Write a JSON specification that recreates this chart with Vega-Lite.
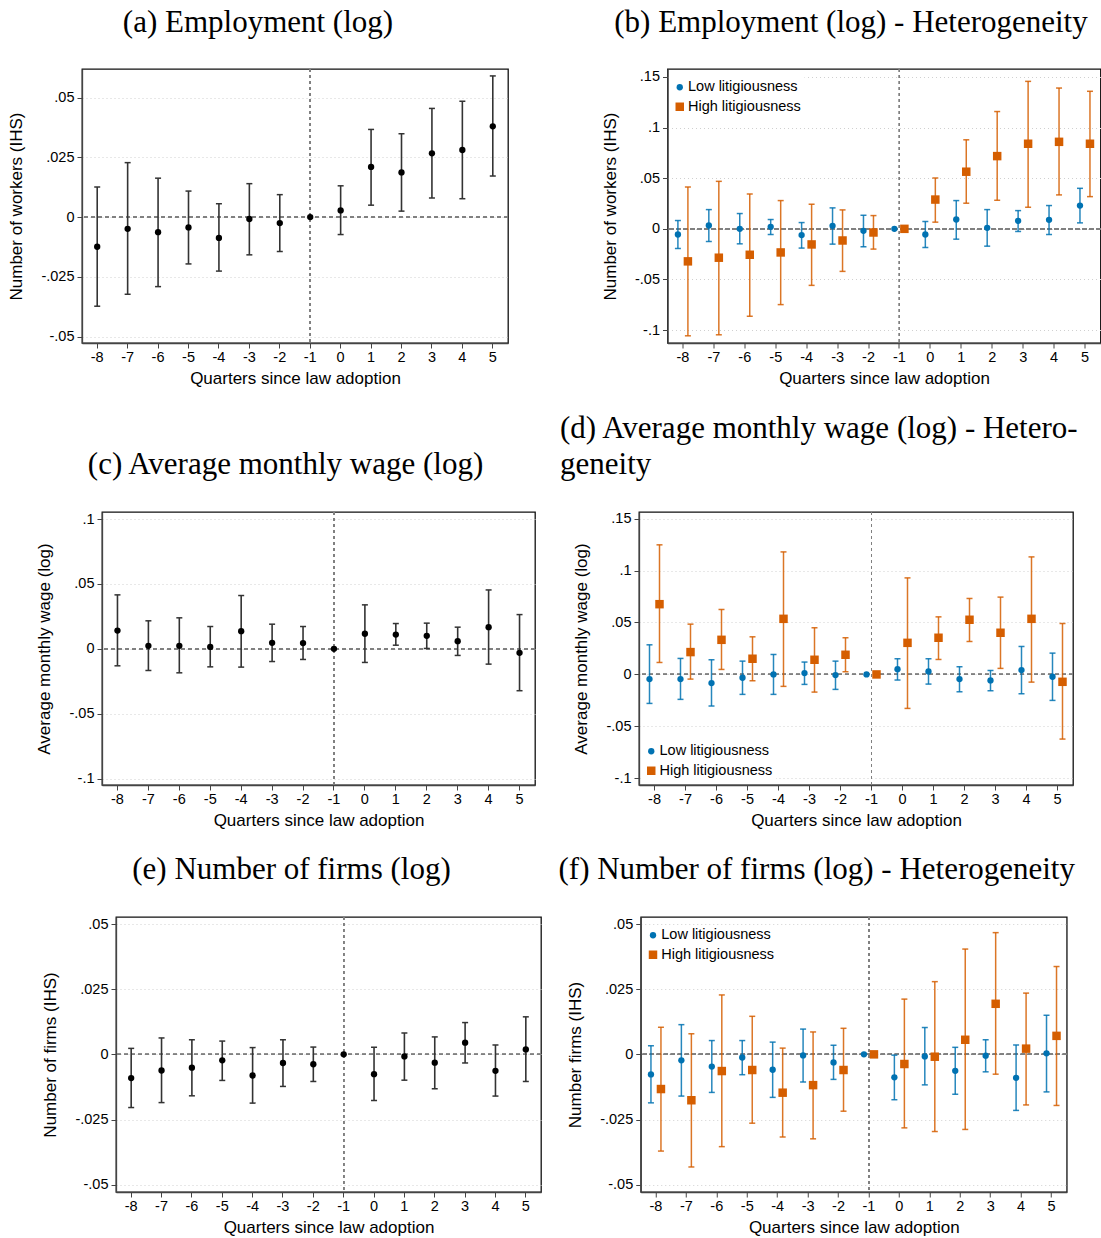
{
"$schema": "https://vega.github.io/schema/vega-lite/v6.json",
"padding": {"left": 2, "top": 5, "right": 0, "bottom": 0},
"datasets": {
"a": [
{"q":-8,"b":-0.0124,"lo":-0.0373,"hi":0.0126},{"q":-7,"b":-0.0049,"lo":-0.0323,"hi":0.0228},{"q":-6,"b":-0.0063,"lo":-0.0291,"hi":0.0163},{"q":-5,"b":-0.0043,"lo":-0.0196,"hi":0.0109},{"q":-4,"b":-0.0087,"lo":-0.0226,"hi":0.0056},{"q":-3,"b":-0.0008,"lo":-0.0158,"hi":0.014},{"q":-2,"b":-0.0025,"lo":-0.0144,"hi":0.0094},{"q":-1,"b":0,"lo":null,"hi":null},{"q":0,"b":0.0028,"lo":-0.0073,"hi":0.0131},{"q":1,"b":0.021,"lo":0.005,"hi":0.0367},{"q":2,"b":0.0187,"lo":0.0025,"hi":0.0349},{"q":3,"b":0.0267,"lo":0.008,"hi":0.0455},{"q":4,"b":0.0281,"lo":0.0077,"hi":0.0485},{"q":5,"b":0.038,"lo":0.0172,"hi":0.0591}],
"b": [
{"q":-8,"g":"Low litigiousness","b":-0.0056,"lo":-0.0194,"hi":0.0082},{"q":-7,"g":"Low litigiousness","b":0.0033,"lo":-0.0125,"hi":0.019},{"q":-6,"g":"Low litigiousness","b":0.0,"lo":-0.0148,"hi":0.0151},{"q":-5,"g":"Low litigiousness","b":0.002,"lo":-0.0056,"hi":0.0092},{"q":-4,"g":"Low litigiousness","b":-0.0062,"lo":-0.019,"hi":0.0062},{"q":-3,"g":"Low litigiousness","b":0.003,"lo":-0.0151,"hi":0.0207},{"q":-2,"g":"Low litigiousness","b":-0.002,"lo":-0.0177,"hi":0.0134},{"q":-1,"g":"Low litigiousness","b":0,"lo":null,"hi":null},{"q":0,"g":"Low litigiousness","b":-0.0056,"lo":-0.0184,"hi":0.0072},{"q":1,"g":"Low litigiousness","b":0.0092,"lo":-0.0102,"hi":0.0279},{"q":2,"g":"Low litigiousness","b":0.001,"lo":-0.0171,"hi":0.019},{"q":3,"g":"Low litigiousness","b":0.0079,"lo":-0.0026,"hi":0.018},{"q":4,"g":"Low litigiousness","b":0.0089,"lo":-0.0056,"hi":0.023},{"q":5,"g":"Low litigiousness","b":0.023,"lo":0.0059,"hi":0.04},
{"q":-8,"g":"High litigiousness","b":-0.0321,"lo":-0.1056,"hi":0.0413},{"q":-7,"g":"High litigiousness","b":-0.0285,"lo":-0.1046,"hi":0.0469},{"q":-6,"g":"High litigiousness","b":-0.0256,"lo":-0.0863,"hi":0.0344},{"q":-5,"g":"High litigiousness","b":-0.0233,"lo":-0.0748,"hi":0.0279},{"q":-4,"g":"High litigiousness","b":-0.0154,"lo":-0.0558,"hi":0.0243},{"q":-3,"g":"High litigiousness","b":-0.0115,"lo":-0.042,"hi":0.0187},{"q":-2,"g":"High litigiousness","b":-0.0036,"lo":-0.02,"hi":0.0131},{"q":-1,"g":"High litigiousness","b":0,"lo":null,"hi":null},{"q":0,"g":"High litigiousness","b":0.0289,"lo":0.0066,"hi":0.0502},{"q":1,"g":"High litigiousness","b":0.0564,"lo":0.0253,"hi":0.0879},{"q":2,"g":"High litigiousness","b":0.0718,"lo":0.0282,"hi":0.1158},{"q":3,"g":"High litigiousness","b":0.084,"lo":0.0213,"hi":0.1456},{"q":4,"g":"High litigiousness","b":0.0859,"lo":0.0335,"hi":0.139},{"q":5,"g":"High litigiousness","b":0.084,"lo":0.0318,"hi":0.1358}],
"c": [
{"q":-8,"b":0.0141,"lo":-0.0131,"hi":0.0416},{"q":-7,"b":0.0023,"lo":-0.0167,"hi":0.0216},{"q":-6,"b":0.0023,"lo":-0.0185,"hi":0.0239},{"q":-5,"b":0.0015,"lo":-0.0139,"hi":0.0172},{"q":-4,"b":0.0136,"lo":-0.0141,"hi":0.0411},{"q":-3,"b":0.0046,"lo":-0.0098,"hi":0.019},{"q":-2,"b":0.0044,"lo":-0.0082,"hi":0.0172},{"q":-1,"b":0,"lo":null,"hi":null},{"q":0,"b":0.0116,"lo":-0.0105,"hi":0.0339},{"q":1,"b":0.011,"lo":0.0028,"hi":0.0195},{"q":2,"b":0.01,"lo":0.0003,"hi":0.0198},{"q":3,"b":0.0059,"lo":-0.0051,"hi":0.0167},{"q":4,"b":0.0167,"lo":-0.0118,"hi":0.0454},{"q":5,"b":-0.0031,"lo":-0.0323,"hi":0.0264}],
"d": [
{"q":-8,"g":"Low litigiousness","b":-0.0045,"lo":-0.0279,"hi":0.0285},{"q":-7,"g":"Low litigiousness","b":-0.0045,"lo":-0.024,"hi":0.0154},{"q":-6,"g":"Low litigiousness","b":-0.0083,"lo":-0.0304,"hi":0.0141},{"q":-5,"g":"Low litigiousness","b":-0.0032,"lo":-0.0192,"hi":0.0128},{"q":-4,"g":"Low litigiousness","b":0.0,"lo":-0.0192,"hi":0.0192},{"q":-3,"g":"Low litigiousness","b":0.0013,"lo":-0.0096,"hi":0.0119},{"q":-2,"g":"Low litigiousness","b":-0.0006,"lo":-0.0144,"hi":0.0128},{"q":-1,"g":"Low litigiousness","b":0,"lo":null,"hi":null},{"q":0,"g":"Low litigiousness","b":0.0051,"lo":-0.0054,"hi":0.0151},{"q":1,"g":"Low litigiousness","b":0.0029,"lo":-0.0093,"hi":0.0151},{"q":2,"g":"Low litigiousness","b":-0.0045,"lo":-0.0167,"hi":0.0074},{"q":3,"g":"Low litigiousness","b":-0.0058,"lo":-0.0157,"hi":0.0038},{"q":4,"g":"Low litigiousness","b":0.0042,"lo":-0.0186,"hi":0.0269},{"q":5,"g":"Low litigiousness","b":-0.0022,"lo":-0.025,"hi":0.0205},
{"q":-8,"g":"High litigiousness","b":0.0676,"lo":0.0115,"hi":0.1247},{"q":-7,"g":"High litigiousness","b":0.0215,"lo":-0.0045,"hi":0.0484},{"q":-6,"g":"High litigiousness","b":0.0333,"lo":0.0048,"hi":0.0625},{"q":-5,"g":"High litigiousness","b":0.0151,"lo":-0.0061,"hi":0.0362},{"q":-4,"g":"High litigiousness","b":0.0535,"lo":-0.0115,"hi":0.1179},{"q":-3,"g":"High litigiousness","b":0.0141,"lo":-0.017,"hi":0.0449},{"q":-2,"g":"High litigiousness","b":0.0189,"lo":0.0026,"hi":0.0353},{"q":-1,"g":"High litigiousness","b":0,"lo":null,"hi":null},{"q":0,"g":"High litigiousness","b":0.0304,"lo":-0.0327,"hi":0.0929},{"q":1,"g":"High litigiousness","b":0.0353,"lo":0.0144,"hi":0.0554},{"q":2,"g":"High litigiousness","b":0.0526,"lo":0.0317,"hi":0.0731},{"q":3,"g":"High litigiousness","b":0.0401,"lo":0.0058,"hi":0.0744},{"q":4,"g":"High litigiousness","b":0.0535,"lo":-0.0074,"hi":0.1131},{"q":5,"g":"High litigiousness","b":-0.0071,"lo":-0.0622,"hi":0.049}],
"e": [
{"q":-8,"b":-0.0091,"lo":-0.0204,"hi":0.0023},{"q":-7,"b":-0.0062,"lo":-0.0185,"hi":0.0063},{"q":-6,"b":-0.0051,"lo":-0.0159,"hi":0.0056},{"q":-5,"b":-0.0023,"lo":-0.01,"hi":0.0051},{"q":-4,"b":-0.0081,"lo":-0.0187,"hi":0.0026},{"q":-3,"b":-0.0033,"lo":-0.0123,"hi":0.0056},{"q":-2,"b":-0.0038,"lo":-0.0104,"hi":0.0028},{"q":-1,"b":0,"lo":null,"hi":null},{"q":0,"b":-0.0076,"lo":-0.0177,"hi":0.0027},{"q":1,"b":-0.0008,"lo":-0.0099,"hi":0.0082},{"q":2,"b":-0.0032,"lo":-0.0132,"hi":0.0067},{"q":3,"b":0.0045,"lo":-0.0033,"hi":0.0122},{"q":4,"b":-0.0063,"lo":-0.016,"hi":0.0036},{"q":5,"b":0.0019,"lo":-0.0104,"hi":0.0144}],
"f": [
{"q":-8,"g":"Low litigiousness","b":-0.0077,"lo":-0.0186,"hi":0.0033},{"q":-7,"g":"Low litigiousness","b":-0.0023,"lo":-0.016,"hi":0.0114},{"q":-6,"g":"Low litigiousness","b":-0.0047,"lo":-0.0146,"hi":0.0053},{"q":-5,"g":"Low litigiousness","b":-0.0012,"lo":-0.0078,"hi":0.0053},{"q":-4,"g":"Low litigiousness","b":-0.0059,"lo":-0.0165,"hi":0.0047},{"q":-3,"g":"Low litigiousness","b":-0.0004,"lo":-0.0106,"hi":0.0097},{"q":-2,"g":"Low litigiousness","b":-0.0031,"lo":-0.0096,"hi":0.0035},{"q":-1,"g":"Low litigiousness","b":0,"lo":null,"hi":null},{"q":0,"g":"Low litigiousness","b":-0.0088,"lo":-0.0174,"hi":-0.0003},{"q":1,"g":"Low litigiousness","b":-0.0008,"lo":-0.0117,"hi":0.0103},{"q":2,"g":"Low litigiousness","b":-0.0063,"lo":-0.0153,"hi":0.0027},{"q":3,"g":"Low litigiousness","b":-0.0005,"lo":-0.0067,"hi":0.0056},{"q":4,"g":"Low litigiousness","b":-0.009,"lo":-0.0215,"hi":0.0036},{"q":5,"g":"Low litigiousness","b":0.0004,"lo":-0.0144,"hi":0.015},
{"q":-8,"g":"High litigiousness","b":-0.0133,"lo":-0.0371,"hi":0.0104},{"q":-7,"g":"High litigiousness","b":-0.0176,"lo":-0.0432,"hi":0.0079},{"q":-6,"g":"High litigiousness","b":-0.0064,"lo":-0.0354,"hi":0.0228},{"q":-5,"g":"High litigiousness","b":-0.006,"lo":-0.0264,"hi":0.0146},{"q":-4,"g":"High litigiousness","b":-0.0147,"lo":-0.0317,"hi":0.0024},{"q":-3,"g":"High litigiousness","b":-0.0118,"lo":-0.0324,"hi":0.0086},{"q":-2,"g":"High litigiousness","b":-0.006,"lo":-0.0218,"hi":0.01},{"q":-1,"g":"High litigiousness","b":0,"lo":null,"hi":null},{"q":0,"g":"High litigiousness","b":-0.0037,"lo":-0.0282,"hi":0.0212},{"q":1,"g":"High litigiousness","b":-0.0009,"lo":-0.0296,"hi":0.0279},{"q":2,"g":"High litigiousness","b":0.0056,"lo":-0.0288,"hi":0.0404},{"q":3,"g":"High litigiousness","b":0.0194,"lo":-0.0076,"hi":0.0467},{"q":4,"g":"High litigiousness","b":0.0022,"lo":-0.0194,"hi":0.0235},{"q":5,"g":"High litigiousness","b":0.0071,"lo":-0.0196,"hi":0.0337}]
},
"vconcat": [
{"hconcat": [
 {"width": 3.5, "height": 1, "data": {"values": []}, "mark": "point", "view": {"stroke": null}},
 {"hconcat": [
 {"width": 426, "height": 274, "title": {"text": "(a) Employment (log)"}, "data": {"name": "a"},
  "layer": [
   {"mark": {"type": "rule", "color": "#808080", "strokeDash": [4, 3], "strokeWidth": 1}, "encoding": {"y": {"datum": 0, "type": "quantitative"}}},
   {"mark": {"type": "rule", "color": "#808080", "strokeDash": [3, 3], "strokeWidth": 1}, "encoding": {"x": {"datum": -1, "type": "ordinal"}}},
   {"mark": {"type": "rule", "color": "#333333", "strokeWidth": 1.6}, "encoding": {"x": {"field": "q", "type": "ordinal"}, "y": {"field": "lo", "type": "quantitative"}, "y2": {"field": "hi"}}},
   {"mark": {"type": "tick", "orient": "horizontal", "color": "#333333", "size": 6, "thickness": 1.5, "opacity": 1}, "encoding": {"x": {"field": "q", "type": "ordinal"}, "y": {"field": "lo", "type": "quantitative"}}},
   {"mark": {"type": "tick", "orient": "horizontal", "color": "#333333", "size": 6, "thickness": 1.5, "opacity": 1}, "encoding": {"x": {"field": "q", "type": "ordinal"}, "y": {"field": "hi", "type": "quantitative"}}},
   {"mark": {"type": "point", "filled": true, "color": "#000000", "size": 40, "opacity": 1}, "encoding": {
     "x": {"field": "q", "type": "ordinal", "scale": {"domain": [-8,-7,-6,-5,-4,-3,-2,-1,0,1,2,3,4,5], "paddingInner": 0, "paddingOuter": 0}, "axis": {"title": "Quarters since law adoption", "bandPosition": 0.5}},
     "y": {"field": "b", "type": "quantitative", "scale": {"domain": [-0.0527, 0.062], "nice": false, "zero": false}, "axis": {"title": "Number of workers (IHS)", "values": [-0.05, -0.025, 0, 0.025, 0.05], "labelExpr": "datum.value == 0 ? '0' : (datum.value < 0 ? '-' : '') + replace(format(abs(datum.value), ''), '0.', '.')"}}}}
  ]},
 {"width": 433, "height": 274, "title": {"text": "(b) Employment (log) - Heterogeneity"}, "data": {"name": "b"},
  "layer": [
   {"mark": {"type": "rule", "color": "#808080", "strokeDash": [4, 3], "strokeWidth": 1}, "encoding": {"y": {"datum": 0, "type": "quantitative"}}},
   {"mark": {"type": "rule", "color": "#808080", "strokeDash": [3, 3], "strokeWidth": 1}, "encoding": {"x": {"datum": -1, "type": "ordinal"}}},
   {"mark": {"type": "rule", "strokeWidth": 1.5, "opacity": 0.85}, "encoding": {"x": {"field": "q", "type": "ordinal"}, "xOffset": {"field": "g", "type": "nominal"}, "y": {"field": "lo", "type": "quantitative"}, "y2": {"field": "hi"}, "color": {"condition": {"test": "datum.g === 'Low litigiousness'", "value": "#0072B2"}, "value": "#D55E00"}}},
   {"mark": {"type": "tick", "orient": "horizontal", "size": 6, "thickness": 1.5, "opacity": 0.85}, "encoding": {"x": {"field": "q", "type": "ordinal"}, "xOffset": {"field": "g", "type": "nominal"}, "y": {"field": "lo", "type": "quantitative"}, "color": {"condition": {"test": "datum.g === 'Low litigiousness'", "value": "#0072B2"}, "value": "#D55E00"}}},
   {"mark": {"type": "tick", "orient": "horizontal", "size": 6, "thickness": 1.5, "opacity": 0.85}, "encoding": {"x": {"field": "q", "type": "ordinal"}, "xOffset": {"field": "g", "type": "nominal"}, "y": {"field": "hi", "type": "quantitative"}, "color": {"condition": {"test": "datum.g === 'Low litigiousness'", "value": "#0072B2"}, "value": "#D55E00"}}},
   {"mark": {"type": "point", "filled": true, "opacity": 1}, "encoding": {
     "x": {"field": "q", "type": "ordinal", "scale": {"domain": [-8,-7,-6,-5,-4,-3,-2,-1,0,1,2,3,4,5], "paddingInner": 0, "paddingOuter": 0}, "axis": {"title": "Quarters since law adoption", "bandPosition": 0.5}},
     "xOffset": {"field": "g", "type": "nominal", "scale": {"type": "point", "domain": ["Low litigiousness", "High litigiousness"], "range": [10.4, 20.4], "padding": 0}},
     "y": {"field": "b", "type": "quantitative", "scale": {"domain": [-0.1127, 0.1578], "nice": false, "zero": false}, "axis": {"title": "Number of workers (IHS)", "values": [-0.1, -0.05, 0, 0.05, 0.1, 0.15], "labelExpr": "datum.value == 0 ? '0' : (datum.value < 0 ? '-' : '') + replace(format(abs(datum.value), ''), '0.', '.')"}},
     "color": {"field": "g", "type": "nominal", "scale": {"domain": ["Low litigiousness", "High litigiousness"], "range": ["#0072B2", "#D55E00"]}, "legend": {"orient": "none", "legendX": 2, "legendY": 8, "title": null}},
     "shape": {"field": "g", "type": "nominal", "scale": {"domain": ["Low litigiousness", "High litigiousness"], "range": ["circle", "square"]}, "legend": {"orient": "none", "legendX": 2, "legendY": 8, "title": null}},
     "size": {"field": "g", "type": "nominal", "scale": {"domain": ["Low litigiousness", "High litigiousness"], "range": [40, 72]}, "legend": {"orient": "none", "legendX": 2, "legendY": 8, "title": null}}}}
  ]}
 ], "spacing": 89.5, "resolve": {"scale": {"color": "independent", "shape": "independent", "size": "independent", "xOffset": "independent"}, "legend": {"color": "independent", "shape": "independent", "size": "independent"}}}
 ], "spacing": 0, "resolve": {"scale": {"color": "independent", "shape": "independent", "size": "independent", "xOffset": "independent"}, "legend": {"color": "independent", "shape": "independent", "size": "independent"}}},
{"hconcat": [
 {"width": 31.5, "height": 1, "data": {"values": []}, "mark": "point", "view": {"stroke": null}},
 {"hconcat": [
 {"width": 433, "height": 273, "title": {"text": "(c) Average monthly wage (log)"}, "data": {"name": "c"},
  "layer": [
   {"mark": {"type": "rule", "color": "#808080", "strokeDash": [4, 3], "strokeWidth": 1}, "encoding": {"y": {"datum": 0, "type": "quantitative"}}},
   {"mark": {"type": "rule", "color": "#808080", "strokeDash": [3, 3], "strokeWidth": 1}, "encoding": {"x": {"datum": -1, "type": "ordinal"}}},
   {"mark": {"type": "rule", "color": "#333333", "strokeWidth": 1.6}, "encoding": {"x": {"field": "q", "type": "ordinal"}, "y": {"field": "lo", "type": "quantitative"}, "y2": {"field": "hi"}}},
   {"mark": {"type": "tick", "orient": "horizontal", "color": "#333333", "size": 6, "thickness": 1.5, "opacity": 1}, "encoding": {"x": {"field": "q", "type": "ordinal"}, "y": {"field": "lo", "type": "quantitative"}}},
   {"mark": {"type": "tick", "orient": "horizontal", "color": "#333333", "size": 6, "thickness": 1.5, "opacity": 1}, "encoding": {"x": {"field": "q", "type": "ordinal"}, "y": {"field": "hi", "type": "quantitative"}}},
   {"mark": {"type": "point", "filled": true, "color": "#000000", "size": 40, "opacity": 1}, "encoding": {
     "x": {"field": "q", "type": "ordinal", "scale": {"domain": [-8,-7,-6,-5,-4,-3,-2,-1,0,1,2,3,4,5], "paddingInner": 0, "paddingOuter": 0}, "axis": {"title": "Quarters since law adoption", "bandPosition": 0.5}},
     "y": {"field": "b", "type": "quantitative", "scale": {"domain": [-0.105, 0.1055], "nice": false, "zero": false}, "axis": {"title": "Average monthly wage (log)", "values": [-0.1, -0.05, 0, 0.05, 0.1], "labelExpr": "datum.value == 0 ? '0' : (datum.value < 0 ? '-' : '') + replace(format(abs(datum.value), ''), '0.', '.')"}}}}
  ]},
 {"width": 434, "height": 273, "title": {"text": ["(d) Average monthly wage (log) - Hetero-", "geneity"], "anchor": "start", "dx": -12.5, "lineHeight": 36}, "data": {"name": "d"},
  "layer": [
   {"mark": {"type": "rule", "color": "#808080", "strokeDash": [4, 3], "strokeWidth": 1}, "encoding": {"y": {"datum": 0, "type": "quantitative"}}},
   {"mark": {"type": "rule", "color": "#808080", "strokeDash": [3, 3], "strokeWidth": 1}, "encoding": {"x": {"datum": -1, "type": "ordinal"}}},
   {"mark": {"type": "rule", "strokeWidth": 1.5, "opacity": 0.85}, "encoding": {"x": {"field": "q", "type": "ordinal"}, "xOffset": {"field": "g", "type": "nominal"}, "y": {"field": "lo", "type": "quantitative"}, "y2": {"field": "hi"}, "color": {"condition": {"test": "datum.g === 'Low litigiousness'", "value": "#0072B2"}, "value": "#D55E00"}}},
   {"mark": {"type": "tick", "orient": "horizontal", "size": 6, "thickness": 1.5, "opacity": 0.85}, "encoding": {"x": {"field": "q", "type": "ordinal"}, "xOffset": {"field": "g", "type": "nominal"}, "y": {"field": "lo", "type": "quantitative"}, "color": {"condition": {"test": "datum.g === 'Low litigiousness'", "value": "#0072B2"}, "value": "#D55E00"}}},
   {"mark": {"type": "tick", "orient": "horizontal", "size": 6, "thickness": 1.5, "opacity": 0.85}, "encoding": {"x": {"field": "q", "type": "ordinal"}, "xOffset": {"field": "g", "type": "nominal"}, "y": {"field": "hi", "type": "quantitative"}, "color": {"condition": {"test": "datum.g === 'Low litigiousness'", "value": "#0072B2"}, "value": "#D55E00"}}},
   {"mark": {"type": "point", "filled": true, "opacity": 1}, "encoding": {
     "x": {"field": "q", "type": "ordinal", "scale": {"domain": [-8,-7,-6,-5,-4,-3,-2,-1,0,1,2,3,4,5], "paddingInner": 0, "paddingOuter": 0}, "axis": {"title": "Quarters since law adoption", "bandPosition": 0.5}},
     "xOffset": {"field": "g", "type": "nominal", "scale": {"type": "point", "domain": ["Low litigiousness", "High litigiousness"], "range": [10.5, 20.5], "padding": 0}},
     "y": {"field": "b", "type": "quantitative", "scale": {"domain": [-0.1064, 0.1563], "nice": false, "zero": false}, "axis": {"title": "Average monthly wage (log)", "values": [-0.1, -0.05, 0, 0.05, 0.1, 0.15], "labelExpr": "datum.value == 0 ? '0' : (datum.value < 0 ? '-' : '') + replace(format(abs(datum.value), ''), '0.', '.')"}},
     "color": {"field": "g", "type": "nominal", "scale": {"domain": ["Low litigiousness", "High litigiousness"], "range": ["#0072B2", "#D55E00"]}, "legend": {"orient": "none", "legendX": 2, "legendY": 229, "title": null}},
     "shape": {"field": "g", "type": "nominal", "scale": {"domain": ["Low litigiousness", "High litigiousness"], "range": ["circle", "square"]}, "legend": {"orient": "none", "legendX": 2, "legendY": 229, "title": null}},
     "size": {"field": "g", "type": "nominal", "scale": {"domain": ["Low litigiousness", "High litigiousness"], "range": [40, 72]}, "legend": {"orient": "none", "legendX": 2, "legendY": 229, "title": null}}}}
  ]}
 ], "spacing": 22, "resolve": {"scale": {"color": "independent", "shape": "independent", "size": "independent", "xOffset": "independent"}, "legend": {"color": "independent", "shape": "independent", "size": "independent"}}}
 ], "spacing": 0, "resolve": {"scale": {"color": "independent", "shape": "independent", "size": "independent", "xOffset": "independent"}, "legend": {"color": "independent", "shape": "independent", "size": "independent"}}},
{"hconcat": [
 {"width": 37.5, "height": 1, "data": {"values": []}, "mark": "point", "view": {"stroke": null}},
 {"hconcat": [
 {"width": 425, "height": 275, "title": {"text": "(e) Number of firms (log)"}, "data": {"name": "e"},
  "layer": [
   {"mark": {"type": "rule", "color": "#808080", "strokeDash": [4, 3], "strokeWidth": 1}, "encoding": {"y": {"datum": 0, "type": "quantitative"}}},
   {"mark": {"type": "rule", "color": "#808080", "strokeDash": [3, 3], "strokeWidth": 1}, "encoding": {"x": {"datum": -1, "type": "ordinal"}}},
   {"mark": {"type": "rule", "color": "#333333", "strokeWidth": 1.6}, "encoding": {"x": {"field": "q", "type": "ordinal"}, "y": {"field": "lo", "type": "quantitative"}, "y2": {"field": "hi"}}},
   {"mark": {"type": "tick", "orient": "horizontal", "color": "#333333", "size": 6, "thickness": 1.5, "opacity": 1}, "encoding": {"x": {"field": "q", "type": "ordinal"}, "y": {"field": "lo", "type": "quantitative"}}},
   {"mark": {"type": "tick", "orient": "horizontal", "color": "#333333", "size": 6, "thickness": 1.5, "opacity": 1}, "encoding": {"x": {"field": "q", "type": "ordinal"}, "y": {"field": "hi", "type": "quantitative"}}},
   {"mark": {"type": "point", "filled": true, "color": "#000000", "size": 40, "opacity": 1}, "encoding": {
     "x": {"field": "q", "type": "ordinal", "scale": {"domain": [-8,-7,-6,-5,-4,-3,-2,-1,0,1,2,3,4,5], "paddingInner": 0, "paddingOuter": 0}, "axis": {"title": "Quarters since law adoption", "bandPosition": 0.5}},
     "y": {"field": "b", "type": "quantitative", "scale": {"domain": [-0.0528, 0.0527], "nice": false, "zero": false}, "axis": {"title": "Number of firms (IHS)", "values": [-0.05, -0.025, 0, 0.025, 0.05], "labelExpr": "datum.value == 0 ? '0' : (datum.value < 0 ? '-' : '') + replace(format(abs(datum.value), ''), '0.', '.')"}}}}
  ]},
 {"width": 426, "height": 275, "title": {"text": "(f) Number of firms (log) - Heterogeneity"}, "data": {"name": "f"},
  "layer": [
   {"mark": {"type": "rule", "color": "#808080", "strokeDash": [4, 3], "strokeWidth": 1}, "encoding": {"y": {"datum": 0, "type": "quantitative"}}},
   {"mark": {"type": "rule", "color": "#808080", "strokeDash": [3, 3], "strokeWidth": 1}, "encoding": {"x": {"datum": -1, "type": "ordinal"}}},
   {"mark": {"type": "rule", "strokeWidth": 1.5, "opacity": 0.85}, "encoding": {"x": {"field": "q", "type": "ordinal"}, "xOffset": {"field": "g", "type": "nominal"}, "y": {"field": "lo", "type": "quantitative"}, "y2": {"field": "hi"}, "color": {"condition": {"test": "datum.g === 'Low litigiousness'", "value": "#0072B2"}, "value": "#D55E00"}}},
   {"mark": {"type": "tick", "orient": "horizontal", "size": 6, "thickness": 1.5, "opacity": 0.85}, "encoding": {"x": {"field": "q", "type": "ordinal"}, "xOffset": {"field": "g", "type": "nominal"}, "y": {"field": "lo", "type": "quantitative"}, "color": {"condition": {"test": "datum.g === 'Low litigiousness'", "value": "#0072B2"}, "value": "#D55E00"}}},
   {"mark": {"type": "tick", "orient": "horizontal", "size": 6, "thickness": 1.5, "opacity": 0.85}, "encoding": {"x": {"field": "q", "type": "ordinal"}, "xOffset": {"field": "g", "type": "nominal"}, "y": {"field": "hi", "type": "quantitative"}, "color": {"condition": {"test": "datum.g === 'Low litigiousness'", "value": "#0072B2"}, "value": "#D55E00"}}},
   {"mark": {"type": "point", "filled": true, "opacity": 1}, "encoding": {
     "x": {"field": "q", "type": "ordinal", "scale": {"domain": [-8,-7,-6,-5,-4,-3,-2,-1,0,1,2,3,4,5], "paddingInner": 0, "paddingOuter": 0}, "axis": {"title": "Quarters since law adoption", "bandPosition": 0.5}},
     "xOffset": {"field": "g", "type": "nominal", "scale": {"type": "point", "domain": ["Low litigiousness", "High litigiousness"], "range": [10.2, 20.2], "padding": 0}},
     "y": {"field": "b", "type": "quantitative", "scale": {"domain": [-0.0528, 0.0527], "nice": false, "zero": false}, "axis": {"title": "Number firms (IHS)", "values": [-0.05, -0.025, 0, 0.025, 0.05], "labelExpr": "datum.value == 0 ? '0' : (datum.value < 0 ? '-' : '') + replace(format(abs(datum.value), ''), '0.', '.')"}},
     "color": {"field": "g", "type": "nominal", "scale": {"domain": ["Low litigiousness", "High litigiousness"], "range": ["#0072B2", "#D55E00"]}, "legend": {"orient": "none", "legendX": 2, "legendY": 8, "title": null}},
     "shape": {"field": "g", "type": "nominal", "scale": {"domain": ["Low litigiousness", "High litigiousness"], "range": ["circle", "square"]}, "legend": {"orient": "none", "legendX": 2, "legendY": 8, "title": null}},
     "size": {"field": "g", "type": "nominal", "scale": {"domain": ["Low litigiousness", "High litigiousness"], "range": [40, 72]}, "legend": {"orient": "none", "legendX": 2, "legendY": 8, "title": null}}}}
  ]}
 ], "spacing": 14.75, "resolve": {"scale": {"color": "independent", "shape": "independent", "size": "independent", "xOffset": "independent"}, "legend": {"color": "independent", "shape": "independent", "size": "independent"}}}
 ], "spacing": 0, "resolve": {"scale": {"color": "independent", "shape": "independent", "size": "independent", "xOffset": "independent"}, "legend": {"color": "independent", "shape": "independent", "size": "independent"}}}
],
"spacing": 24,
"resolve": {"scale": {"color": "independent", "shape": "independent", "size": "independent", "xOffset": "independent"}, "legend": {"color": "independent", "shape": "independent", "size": "independent"}},
"config": {
 "background": "white",
 "view": {"stroke": "#111111", "strokeWidth": 1.3},
 "font": "Liberation Sans",
 "axis": {"labelFont": "Liberation Sans", "labelFontSize": 14.5, "labelColor": "#000000", "titleFont": "Liberation Sans", "titleFontSize": 17, "titleFontWeight": "normal", "titleColor": "#000000", "tickSize": 5, "tickColor": "#444444", "tickWidth": 1, "domainColor": "#444444", "domainWidth": 1.3, "labelPadding": 2},
 "axisY": {"grid": true, "gridColor": "#d0d0d0", "gridDash": [1, 3], "gridWidth": 1, "titlePadding": 15.5, "labelPadding": 3},
 "axisX": {"grid": false, "labelAngle": 0, "titlePadding": 6.5},
 "title": {"font": "Liberation Serif", "fontSize": 31, "fontWeight": "normal", "color": "#000000", "frame": "bounds", "anchor": "middle", "baseline": "bottom", "offset": 30},
 "legend": {"labelFont": "Liberation Sans", "labelFontSize": 14.5, "labelColor": "#000000", "rowPadding": 4.5, "padding": 3, "fillColor": "white", "labelOffset": 1, "symbolStrokeWidth": 0}
}
}
